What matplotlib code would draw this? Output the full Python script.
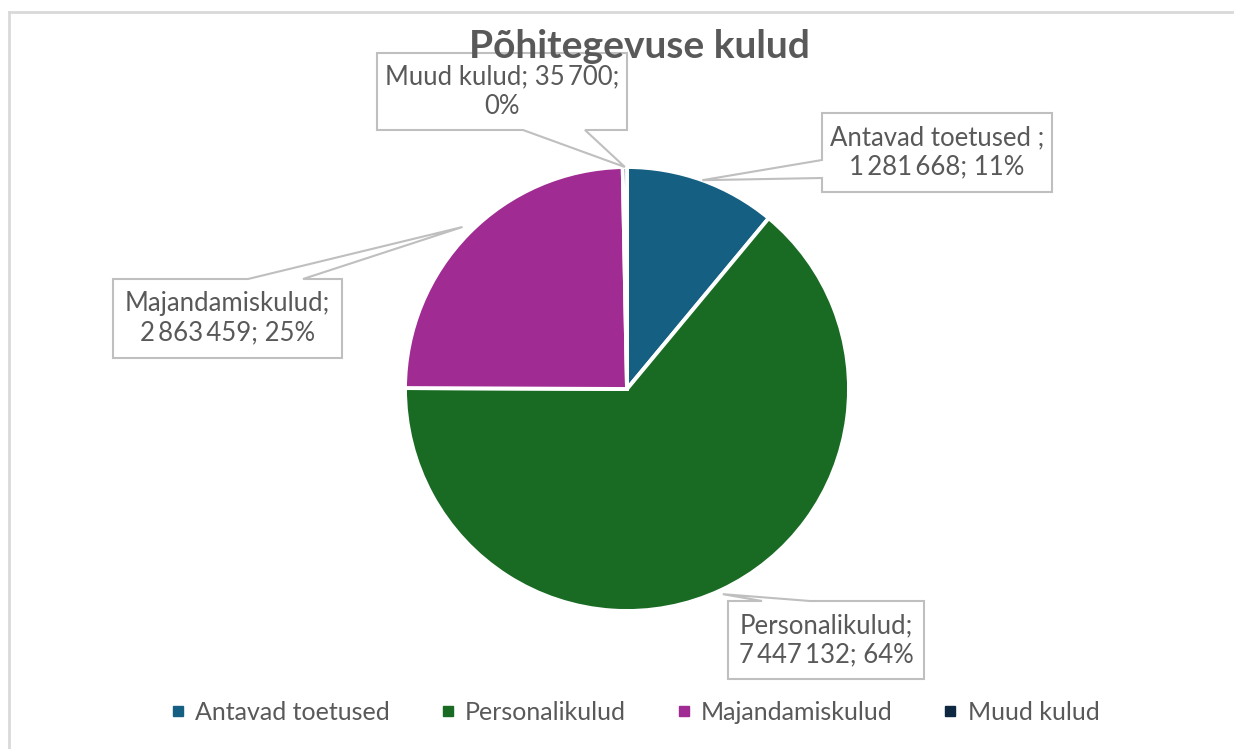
import numpy as np
import matplotlib.pyplot as plt
from matplotlib.patches import Polygon
from matplotlib.lines import Line2D

plt.rcParams['font.family'] = ['Lato', 'DejaVu Sans']

title = 'Põhitegevuse kulud'
categories = ['Antavad toetused', 'Personalikulud', 'Majandamiskulud', 'Muud kulud']
label_names = ['Antavad toetused ', 'Personalikulud', 'Majandamiskulud', 'Muud kulud']
values = [1281668, 7447132, 2863459, 35700]
colors = ['#156082', '#196B24', '#A02B93', '#0E2841']

W, H = 1234, 749
TEXT = '#595959'
EDGE = '#BFBFBF'


def fmt(v):
    # thousands grouped with a narrow space, as in the source
    return f'{v:,}'.replace(',', '\u2009')


def flip(y):
    return H - y


fig = plt.figure(figsize=(W / 100, H / 100), dpi=100)
ax = fig.add_axes([0, 0, 1, 1])

cx, cy, rad = 627, 389, 222
wedges, _ = ax.pie(values, colors=colors, startangle=90, counterclock=False,
                   center=(cx, flip(cy)), radius=rad,
                   wedgeprops=dict(edgecolor='white', linewidth=2.8))
ax.set_aspect('auto')
ax.set_xlim(0, W)
ax.set_ylim(0, H)
ax.axis('off')

total = sum(values)
pct = [round(v / total * 100) for v in values]

# callout boxes: (x0, y0, x1, y1) in pixels from top-left, side of pointer, base pair, radial factor
layout = [
    ((822, 113, 1052, 192), 'left', (160, 178), 1.0, "{};\n{}; {}%"),
    ((728, 601, 924, 679), 'top', (762, 810), 1.02, "{};\n{}; {}%"),
    ((113, 279, 342, 358), 'top', (248, 303), 1.04, "{};\n{}; {}%"),
    ((377, 53, 627, 130), 'bottom', (523, 585), 1.0, "{}; {};\n{}%"),
]

for w, name, v, p, (box, side, (b1, b2), rf, tmpl) in zip(wedges, label_names, values, pct, layout):
    mid = np.deg2rad((w.theta1 + w.theta2) / 2)
    tx = cx + rad * rf * np.cos(mid)
    ty = cy - rad * rf * np.sin(mid)
    x0, y0, x1, y1 = box
    pts = [(x0, y0)]
    if side == 'top':
        pts += [(b1, y0), (tx, ty), (b2, y0)]
    pts += [(x1, y0), (x1, y1)]
    if side == 'bottom':
        pts += [(b2, y1), (tx, ty), (b1, y1)]
    pts += [(x0, y1)]
    if side == 'left':
        pts += [(x0, b2), (tx, ty), (x0, b1)]
    pts = [(px, flip(py)) for px, py in pts]
    ax.add_patch(Polygon(pts, closed=True, facecolor='white', edgecolor=EDGE,
                         linewidth=1.5, zorder=5))
    ax.text((x0 + x1) / 2, flip((y0 + y1) / 2), tmpl.format(name, fmt(v), p),
            ha='center', va='center', fontsize=18.5, color=TEXT,
            linespacing=1.2, zorder=6)

ax.text(639, flip(46), title, ha='center', va='center', fontsize=28,
        fontweight='bold', color=TEXT, zorder=10)

handles = [Line2D([], [], marker='s', linestyle='none', markersize=6.5,
                  markerfacecolor=c, markeredgecolor=c) for c in colors]
fig.legend(handles, categories, loc='center', bbox_to_anchor=(635 / W, 1 - 712 / H),
           ncol=4, frameon=False, fontsize=18, handlelength=0.6,
           handletextpad=0.4, columnspacing=2.0, labelcolor=TEXT)

# chart area border (top and left edges only visible)
fig.add_artist(Line2D([9 / W, 1], [1 - 12 / H, 1 - 12 / H], color='#D9D9D9', linewidth=2))
fig.add_artist(Line2D([9 / W, 9 / W], [0, 1 - 12 / H], color='#D9D9D9', linewidth=2))

fig.savefig('out.png', dpi=100, facecolor='white')
